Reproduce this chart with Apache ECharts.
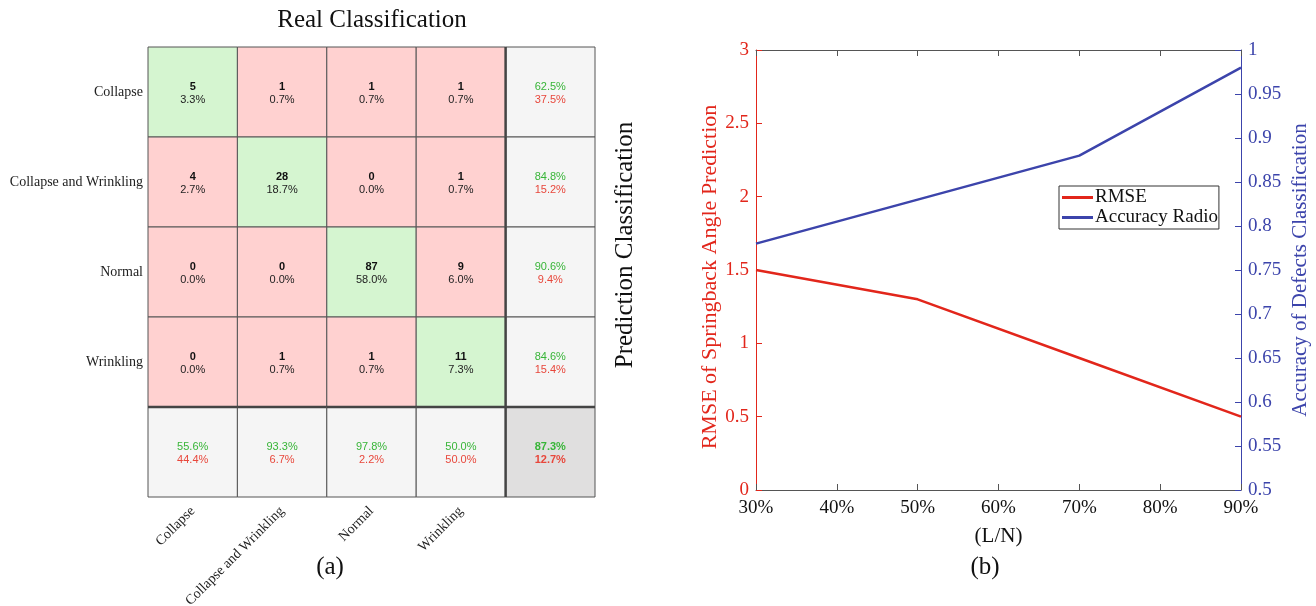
<!DOCTYPE html>
<html>
<head>
<meta charset="utf-8">
<script src="https://cdn.jsdelivr.net/npm/echarts@6/dist/echarts.min.js"></script>
<style>html,body{margin:0;padding:0;background:#fff;}#c{width:1316px;height:606px;}</style>
</head>
<body>
<div id="c"></div>
<script>
// ---------- Data: confusion matrix (a) ----------
const classes = ['Collapse', 'Collapse and Wrinkling', 'Normal', 'Wrinkling'];
// rows = predicted class, cols = real class
const counts = [
  [5, 1, 1, 1],
  [4, 28, 0, 1],
  [0, 0, 87, 9],
  [0, 1, 1, 11]
];
const percents = [
  ['3.3%', '0.7%', '0.7%', '0.7%'],
  ['2.7%', '18.7%', '0.0%', '0.7%'],
  ['0.0%', '0.0%', '58.0%', '6.0%'],
  ['0.0%', '0.7%', '0.7%', '7.3%']
];
const rowSummary = [['62.5%', '37.5%'], ['84.8%', '15.2%'], ['90.6%', '9.4%'], ['84.6%', '15.4%']];
const colSummary = [['55.6%', '44.4%'], ['93.3%', '6.7%'], ['97.8%', '2.2%'], ['50.0%', '50.0%']];
const overall = ['87.3%', '12.7%'];

// ---------- Data: line chart (b) ----------
const lnRatio = [30, 50, 70, 90];          // (L/N) in %
const rmse = [1.5, 1.3, 0.9, 0.5];
const accuracy = [0.78, 0.83, 0.88, 0.98];

const SERIF = "'Liberation Serif', 'Times New Roman', serif";
const SANS = "'Liberation Sans', Arial, sans-serif";
const RED = '#e2261b';
const BLUE = '#3c44ab';
const GREEN_TXT = '#38b538';
const RED_TXT = '#e8473b';

const cells = [];
for (let r = 0; r < 5; r++) for (let c = 0; c < 5; c++) cells.push([c, r]);

function cellInfo(c, r) {
  if (r < 4 && c < 4) {
    return { fill: r === c ? '#d5f5d0' : '#ffd1d0', t1: String(counts[r][c]), t2: percents[r][c], c1: '#111', c2: '#222', bold1: true, bold2: false };
  }
  if (r < 4 && c === 4) return { fill: '#f5f5f5', t1: rowSummary[r][0], t2: rowSummary[r][1], c1: GREEN_TXT, c2: RED_TXT, bold1: false, bold2: false };
  if (r === 4 && c < 4) return { fill: '#f5f5f5', t1: colSummary[c][0], t2: colSummary[c][1], c1: GREEN_TXT, c2: RED_TXT, bold1: false, bold2: false };
  return { fill: '#e0dfdf', t1: overall[0], t2: overall[1], c1: GREEN_TXT, c2: RED_TXT, bold1: true, bold2: true };
}

const chart = echarts.init(document.getElementById('c'), null, { renderer: 'canvas' });

const option = {
  backgroundColor: '#ffffff',
  animation: false,
  grid: [
    { left: 148, top: 47, width: 447, height: 450, containLabel: false, outerBoundsMode: 'none' },
    { left: 756, top: 50, width: 485, height: 440, containLabel: false, outerBoundsMode: 'none' }
  ],
  xAxis: [
    {
      gridIndex: 0, type: 'category', data: classes.concat(['']), position: 'bottom',
      axisLine: { show: false }, axisTick: { show: false }, splitLine: { show: false },
      axisLabel: { rotate: 45, margin: 12, fontFamily: SERIF, fontSize: 14, color: '#222' }
    },
    {
      gridIndex: 1, type: 'value', min: 30, max: 90, interval: 10, position: 'bottom',
      axisLine: { show: true, lineStyle: { color: '#555', width: 1 } },
      axisTick: { show: true, inside: true, length: 6, lineStyle: { color: '#555' } },
      splitLine: { show: false },
      axisLabel: { formatter: '{value}%', fontFamily: SERIF, fontSize: 19, color: '#111', margin: 9 },
      name: '(L/N)', nameLocation: 'middle', nameGap: 36,
      nameTextStyle: { fontFamily: SERIF, fontSize: 21, color: '#111' }
    },
    {
      gridIndex: 1, type: 'value', min: 30, max: 90, interval: 10, position: 'top',
      axisLine: { show: true, lineStyle: { color: '#555', width: 1 } },
      axisTick: { show: true, inside: true, length: 6, lineStyle: { color: '#555' } },
      axisLabel: { show: false }, splitLine: { show: false }
    }
  ],
  yAxis: [
    {
      gridIndex: 0, type: 'category', data: classes.concat(['']), inverse: true,
      axisLine: { show: false }, axisTick: { show: false }, splitLine: { show: false },
      axisLabel: { margin: 5, fontFamily: SERIF, fontSize: 14, color: '#222' }
    },
    {
      gridIndex: 1, type: 'value', min: 0, max: 3, interval: 0.5, position: 'left',
      axisLine: { show: true, lineStyle: { color: RED, width: 1 } },
      axisTick: { show: true, inside: true, length: 6, lineStyle: { color: RED } },
      splitLine: { show: false },
      axisLabel: { fontFamily: SERIF, fontSize: 19, color: RED, margin: 7 },
      name: 'RMSE of Springback Angle Prediction', nameLocation: 'middle', nameGap: 35,
      nameTextStyle: { fontFamily: SERIF, fontSize: 22, color: RED, padding: [0, 14, 0, 0] }
    },
    {
      gridIndex: 1, type: 'value', min: 0.5, max: 1, interval: 0.05, position: 'right',
      axisLine: { show: true, lineStyle: { color: BLUE, width: 1 } },
      axisTick: { show: true, inside: true, length: 6, lineStyle: { color: BLUE } },
      splitLine: { show: false },
      axisLabel: { fontFamily: SERIF, fontSize: 19, color: BLUE, margin: 7 },
      name: 'Accuracy of Defects Classification', nameLocation: 'middle', nameGap: 49,
      nameTextStyle: { fontFamily: SERIF, fontSize: 21, color: BLUE }
    }
  ],
  legend: {
    show: true, orient: 'vertical', left: 1059, top: 186,
    backgroundColor: '#fff', borderColor: '#333', borderWidth: 1,
    padding: [2, 1, 2, 3], itemGap: 1, itemWidth: 31, itemHeight: 3,
    icon: 'rect',
    textStyle: { fontFamily: SERIF, fontSize: 19, color: '#111', padding: [0, 0, 0, -3] },
    data: ['RMSE', 'Accuracy Radio']
  },
  series: [
    {
      type: 'custom', xAxisIndex: 0, yAxisIndex: 0, data: cells, silent: true,
      renderItem: function (params, api) {
        const c = api.value(0), r = api.value(1);
        const pt = api.coord([c, r]);
        const sz = api.size([1, 1]);
        const x0 = pt[0] - sz[0] / 2, y0 = pt[1] - sz[1] / 2;
        const info = cellInfo(c, r);
        const children = [
          { type: 'rect', shape: { x: x0, y: y0, width: sz[0], height: sz[1] },
            style: { fill: info.fill, stroke: '#555', lineWidth: 1 } },
          { type: 'text', style: { x: pt[0], y: pt[1] - 5, text: info.t1, fill: info.c1,
            font: (info.bold1 ? 'bold ' : '') + '11px ' + SANS, align: 'center', verticalAlign: 'middle' } },
          { type: 'text', style: { x: pt[0], y: pt[1] + 8, text: info.t2, fill: info.c2,
            font: (info.bold2 ? 'bold ' : '') + '11px ' + SANS, align: 'center', verticalAlign: 'middle' } }
        ];
        if (r === 4) children.push({ type: 'line', shape: { x1: x0, y1: y0, x2: x0 + sz[0], y2: y0 },
          style: { stroke: '#444', lineWidth: 2.5 } });
        if (c === 4) children.push({ type: 'line', shape: { x1: x0, y1: y0, x2: x0, y2: y0 + sz[1] },
          style: { stroke: '#444', lineWidth: 2.5 } });
        return { type: 'group', children: children };
      }
    },
    {
      name: 'RMSE', type: 'line', xAxisIndex: 1, yAxisIndex: 1,
      data: lnRatio.map((x, i) => [x, rmse[i]]),
      showSymbol: false, lineStyle: { color: RED, width: 2.5 }, itemStyle: { color: RED }
    },
    {
      name: 'Accuracy Radio', type: 'line', xAxisIndex: 1, yAxisIndex: 2,
      data: lnRatio.map((x, i) => [x, accuracy[i]]),
      showSymbol: false, lineStyle: { color: BLUE, width: 2.5 }, itemStyle: { color: BLUE }
    }
  ],
  graphic: [
    { type: 'text', x: 372, y: 20, style: { text: 'Real Classification', font: '25px ' + SERIF, fill: '#111', align: 'center', verticalAlign: 'middle' } },
    { type: 'text', x: 625, y: 245, rotation: Math.PI / 2, style: { text: 'Prediction Classification', font: '25px ' + SERIF, fill: '#111', align: 'center', verticalAlign: 'middle' } },
    { type: 'text', x: 330, y: 567, style: { text: '(a)', font: '25px ' + SERIF, fill: '#111', align: 'center', verticalAlign: 'middle' } },
    { type: 'text', x: 985, y: 567, style: { text: '(b)', font: '25px ' + SERIF, fill: '#111', align: 'center', verticalAlign: 'middle' } }
  ]
};
chart.setOption(option);
</script>
</body>
</html>
